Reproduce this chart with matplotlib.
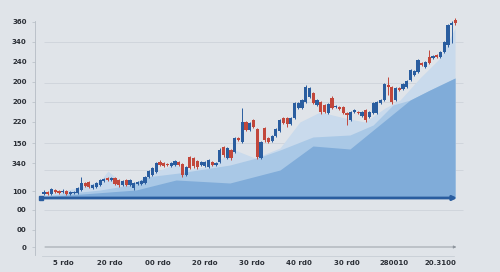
import numpy as np
import matplotlib
matplotlib.use("Agg")
import matplotlib.pyplot as plt

# candle data (open, high, low, close), one entry per candle
opens = [53, 55, 53, 57, 56, 55, 56, 53, 54, 54, 57, 64, 65, 59, 60, 62, 66, 69, 67, 69,
         67, 62, 67, 62, 59, 63, 63, 64, 70, 72, 75, 85, 84, 83, 81, 82, 85, 83, 72, 90,
         89, 86, 82, 81, 80, 85, 82, 85, 100, 89, 97, 95, 109, 105, 125, 117, 127, 118, 89, 119,
         109, 106, 111, 116, 129, 129, 123, 129, 139, 139, 145, 150, 154, 142, 145, 142, 134, 149, 140, 140,
         140, 134, 127, 135, 135, 131, 137, 130, 134, 134, 144, 147, 162, 160, 147, 159, 158, 160, 167, 172,
         175, 184, 180, 190, 189, 192, 190, 195, 202, 222, 227]
highs = [57, 56, 59, 58, 57, 58, 57, 56, 56, 60, 70, 65, 66, 63, 65, 68, 69, 70, 70, 70,
         68, 67, 68, 68, 65, 66, 67, 71, 77, 80, 85, 87, 85, 84, 85, 87, 86, 84, 81, 91,
         90, 87, 86, 86, 88, 86, 85, 99, 101, 100, 98, 110, 110, 139, 126, 125, 128, 119, 106, 120,
         110, 112, 119, 128, 130, 130, 130, 145, 145, 148, 162, 160, 155, 148, 146, 143, 144, 151, 142, 141,
         141, 135, 136, 138, 136, 136, 138, 136, 145, 146, 148, 164, 170, 161, 160, 160, 164, 167, 178, 177,
         188, 185, 186, 197, 192, 193, 196, 206, 223, 226, 229]
lows = [52, 52, 52, 54, 53, 54, 52, 52, 53, 53, 56, 60, 59, 58, 59, 61, 65, 66, 66, 62,
        60, 61, 61, 61, 57, 62, 62, 63, 69, 71, 74, 81, 80, 81, 80, 81, 81, 70, 71, 78,
        79, 78, 81, 80, 79, 81, 81, 84, 90, 88, 87, 94, 106, 104, 116, 116, 119, 88, 88, 105,
        104, 105, 110, 115, 123, 120, 122, 128, 138, 138, 144, 149, 143, 141, 133, 134, 133, 138, 139, 137,
        133, 122, 126, 134, 133, 130, 125, 129, 133, 133, 143, 146, 152, 143, 146, 156, 157, 159, 166, 171,
        174, 181, 179, 183, 188, 189, 189, 194, 200, 204, 222]
closes = [55, 53, 58, 55, 54, 56, 53, 55, 55, 59, 64, 61, 60, 62, 64, 67, 68, 67, 69, 63,
          62, 66, 62, 67, 64, 65, 66, 70, 76, 79, 84, 82, 81, 82, 84, 86, 82, 72, 80, 79,
          81, 80, 85, 85, 87, 82, 84, 97, 92, 99, 89, 109, 107, 125, 117, 124, 120, 90, 105, 107,
          105, 111, 118, 127, 124, 123, 129, 144, 144, 147, 160, 159, 144, 147, 135, 135, 143, 139, 141, 138,
          134, 132, 135, 137, 134, 135, 127, 135, 144, 145, 147, 163, 160, 145, 159, 157, 163, 166, 177, 176,
          187, 182, 185, 184, 191, 190, 195, 205, 222, 224, 224]

# shaded bands under the candles (x = candle index)
band_x = [-0.5, 4.3, 9.6, 15, 17.1, 20.3, 25.7, 29.7, 35, 37.7, 44.4, 51, 56.4, 63.1,
          68.4, 73.8, 80.5, 85.8, 91.2, 95.2, 100.5, 105.9, 109.9]
band_light = [52, 55, 60, 66, 76, 66, 63, 75, 83, 77, 81, 97, 89, 99,
              125, 135, 129, 125, 139, 147, 169, 189, 219]
mid_x = [-0.5, 15, 23, 27.3, 36.1, 49.7, 57.8, 63.1, 71.9, 81.8, 88, 93.3, 97.9, 103.2, 109.9]
band_mid = [51, 57, 62, 70, 74, 82, 90, 97, 110, 112, 122, 142, 147, 157, 169]
dark_x = [-0.5, 24.6, 35.3, 49.7, 63.1, 71.9, 81.8, 97.9, 103.2, 109.9]
band_dark = [50, 57, 67, 64, 77, 101, 98, 147, 157, 169]

ytick_pos = [0, 17, 37, 56, 84, 104, 125, 145, 165, 185, 205, 225]
ytick_lab = ["0", "00", "00", "100", "340", "150", "220", "200", "200", "240", "340", "360"]
xtick_pos = [5.1, 17.7, 30.3, 43.0, 55.6, 68.2, 80.9, 93.5, 106.1]
xtick_lab = ["5 rdo", "20 rdo", "00 rdo", "20 rdo", "30 rdo", "40 rd0", "30 rd0", "280010", "20.3100"]
grid_levels = [37, 77, 104, 145, 164, 205]
base_level = 49

bg = "#e0e4e9"
blue = "#2a5d9f"
red = "#c2473b"

fig = plt.figure(figsize=(5, 2.72), dpi=100, facecolor=bg)
ax = fig.add_axes([35 / 500, 16 / 272, 435 / 500, 241 / 272])
ax.set_facecolor(bg)
ax.set_xlim(-2.41, 113.9)
ax.set_ylim(-9, 232)

for g in grid_levels:
    ax.hlines(g, 0, 112, color="#cdd3da", lw=0.6, zorder=0)

ax.fill_between(band_x, base_level, band_light, color="#c9daec", lw=0, zorder=1)
ax.fill_between(mid_x, base_level, band_mid, color="#a9c8e6", lw=0, zorder=2)
ax.fill_between(dark_x, base_level, band_dark, color="#80acd9", lw=0, zorder=3)

o = np.array(opens)
c = np.array(closes)
idx = np.arange(len(o))
cols = [blue if cc >= oo else red for oo, cc in zip(o, c)]
ax.vlines(idx, lows, highs, colors=cols, lw=0.7, zorder=4)
h = np.maximum(np.abs(c - o), 1.2)
ax.bar(idx, h, bottom=np.minimum(o, c), width=0.85, color=cols, lw=0, zorder=5)

# baseline with arrow
ax.annotate("", xy=(111.2, base_level), xytext=(-0.9, base_level),
            arrowprops=dict(arrowstyle="-|>", color=blue, lw=2.0, mutation_scale=6),
            zorder=6)
ax.plot([-0.8], [base_level], marker="s", ms=3, color=blue, zorder=7)
# zero line with arrow
ax.annotate("", xy=(111.0, 0), xytext=(-0.5, 0),
            arrowprops=dict(arrowstyle="-|>", color="#8d949c", lw=0.6, mutation_scale=4),
            zorder=1)

ax.set_yticks(ytick_pos)
ax.set_yticklabels(ytick_lab)
ax.set_xticks(xtick_pos)
ax.set_xticklabels(xtick_lab)
ax.tick_params(axis="y", length=2, width=0.5, color="#b5bcc4", pad=4,
               labelsize=5, labelcolor="#2b2f36")
ax.tick_params(axis="x", length=0, pad=3, labelsize=5, labelcolor="#2b2f36")
for lab in ax.get_xticklabels() + ax.get_yticklabels():
    lab.set_fontweight("bold")

for s in ["top", "right"]:
    ax.spines[s].set_visible(False)
ax.spines["left"].set_color("#b5bcc4")
ax.spines["left"].set_linewidth(0.6)
ax.spines["left"].set_bounds(-8, 226)
ax.spines["bottom"].set_color("#c8ced5")
ax.spines["bottom"].set_linewidth(0.6)
ax.spines["bottom"].set_bounds(-0.5, 109.5)

fig.savefig("out.png", dpi=100, facecolor=bg)
